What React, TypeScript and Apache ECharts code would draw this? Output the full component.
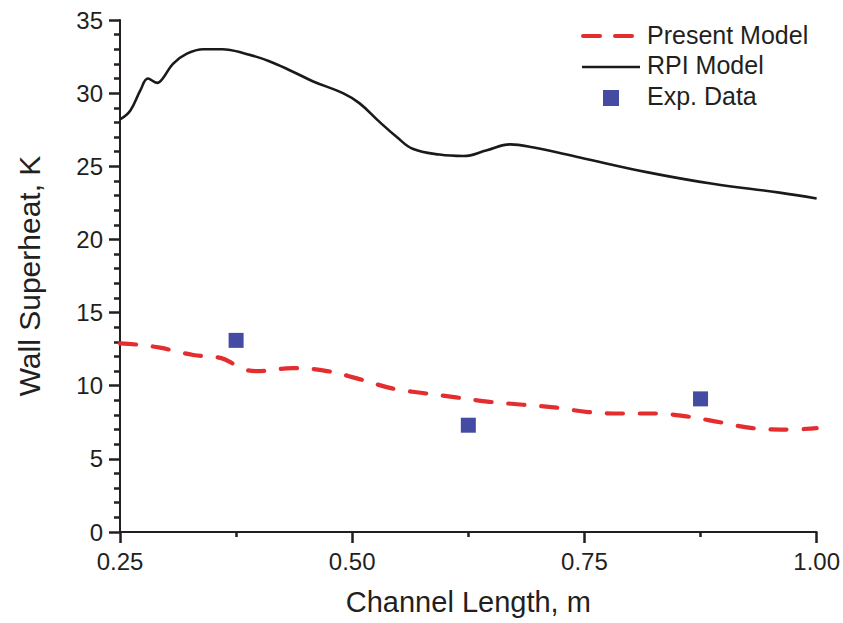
import React, { useEffect, useRef } from "react";
import * as echarts from "echarts";

const xTicks = [0.25, 0.5, 0.75, 1.0];

const rpiModel: [number, number][] = [
  [0.25, 28.2], [0.261, 28.8], [0.272, 30.2], [0.28, 31.0], [0.29, 30.7],
  [0.296, 31.0], [0.307, 32.0], [0.322, 32.7], [0.34, 33.0], [0.36, 33.0],
  [0.385, 32.7], [0.41, 32.2], [0.435, 31.5], [0.458, 30.8], [0.49, 30.0],
  [0.508, 29.3], [0.53, 28.0], [0.548, 27.0], [0.565, 26.2], [0.594, 25.8],
  [0.62, 25.7], [0.645, 26.1], [0.67, 26.5], [0.694, 26.3], [0.745, 25.6],
  [0.817, 24.6], [0.888, 23.8], [0.96, 23.2], [1.0, 22.8],
];

const presentModel: [number, number][] = [
  [0.25, 12.9], [0.27, 12.8], [0.293, 12.6], [0.329, 12.1], [0.358, 11.9],
  [0.372, 11.5], [0.385, 11.1], [0.397, 11.0], [0.436, 11.2], [0.473, 11.0],
  [0.505, 10.5], [0.544, 9.8], [0.576, 9.5], [0.612, 9.2], [0.648, 8.9],
  [0.684, 8.7], [0.72, 8.5], [0.754, 8.2], [0.79, 8.1], [0.826, 8.1],
  [0.86, 7.9], [0.896, 7.5], [0.931, 7.1], [0.968, 7.0], [1.0, 7.1],
];

const expData: [number, number][] = [
  [0.375, 13.1], [0.625, 7.3], [0.875, 9.1],
];

const legendNames = ["Present Model", "RPI Model", "Exp. Data"];

const TEXT = "#231f20";
const RED = "#e42d2f";
const BLACK = "#1a1a1a";
const BLUE = "#434ba3";
const FONT = "'Liberation Sans', Arial, Helvetica, sans-serif";

export default function App() {
  const ref = useRef<HTMLDivElement>(null);
  useEffect(() => {
    if (!ref.current) return;
    const chart = echarts.init(ref.current, null, { renderer: "svg" });
    const legendText = (name: string, y: number) => ({
      type: "text",
      left: 647,
      top: y - 15,
      style: { text: name, fontSize: 25, fontFamily: FONT, fill: TEXT },
    });
    chart.setOption({
      animation: false,
      backgroundColor: "#ffffff",
      textStyle: { fontFamily: FONT, color: TEXT },
      grid: { left: 120, top: 20, right: 26, bottom: 91 },
      graphic: [
        {
          type: "line",
          shape: { x1: 583, y1: 36, x2: 633, y2: 36 },
          style: { stroke: RED, lineWidth: 4, lineDash: [17, 15], lineCap: "round" },
        },
        {
          type: "line",
          shape: { x1: 582, y1: 67, x2: 640, y2: 67 },
          style: { stroke: BLACK, lineWidth: 2.6 },
        },
        {
          type: "rect",
          shape: { x: 603, y: 90, width: 16, height: 16 },
          style: { fill: BLUE },
        },
        legendText(legendNames[0], 37),
        legendText(legendNames[1], 67),
        legendText(legendNames[2], 98),
      ],
      xAxis: {
        type: "value",
        min: xTicks[0],
        max: xTicks[xTicks.length - 1],
        interval: 0.25,
        name: "Channel Length, m",
        nameLocation: "middle",
        nameGap: 55,
        nameTextStyle: { fontSize: 29, color: TEXT, fontFamily: FONT },
        axisLine: { show: true, onZero: false, lineStyle: { color: TEXT, width: 2 } },
        axisTick: { show: true, length: 11, lineStyle: { color: TEXT, width: 2.5 } },
        minorTick: { show: true, splitNumber: 2, length: 5, lineStyle: { color: TEXT, width: 2.5 } },
        splitLine: { show: false },
        axisLabel: {
          fontSize: 24,
          color: TEXT,
          margin: 17,
          formatter: (v: number) => v.toFixed(2),
        },
      },
      yAxis: {
        type: "value",
        min: 0,
        max: 35,
        interval: 5,
        name: "Wall Superheat, K",
        nameLocation: "middle",
        nameGap: 76,
        nameTextStyle: { fontSize: 30, color: TEXT, fontFamily: FONT },
        axisLine: { show: true, lineStyle: { color: TEXT, width: 2 } },
        axisTick: { show: true, length: 11, lineStyle: { color: TEXT, width: 2.5 } },
        minorTick: { show: true, splitNumber: 5, length: 6, lineStyle: { color: TEXT, width: 2.5 } },
        splitLine: { show: false },
        axisLabel: { fontSize: 24, color: TEXT, margin: 17 },
      },
      series: [
        {
          name: legendNames[0],
          type: "line",
          data: presentModel,
          smooth: 0.4,
          symbol: "none",
          lineStyle: { color: RED, width: 4.2, type: [16, 17], cap: "round" },
          itemStyle: { color: RED },
          z: 3,
        },
        {
          name: legendNames[1],
          type: "line",
          data: rpiModel,
          smooth: 0.4,
          symbol: "none",
          lineStyle: { color: BLACK, width: 2.6 },
          itemStyle: { color: BLACK },
          z: 3,
        },
        {
          name: legendNames[2],
          type: "scatter",
          data: expData,
          symbol: "rect",
          symbolSize: 15,
          itemStyle: { color: BLUE, opacity: 1 },
          z: 4,
        },
      ],
    });
    return () => chart.dispose();
  }, []);
  return (
    <div
      ref={ref}
      style={{ position: "fixed", left: 0, top: 0, width: 843, height: 623 }}
    />
  );
}
